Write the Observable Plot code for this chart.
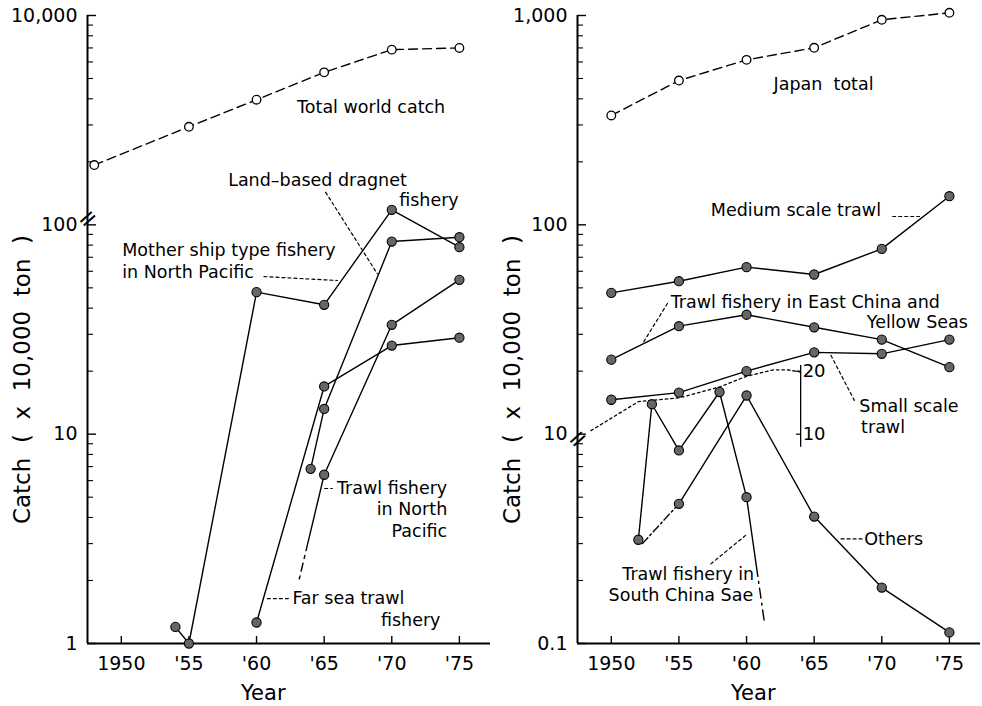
<!DOCTYPE html>
<html>
<head>
<meta charset="utf-8">
<script src="https://cdn.jsdelivr.net/npm/d3@7"></script>
<script src="https://cdn.jsdelivr.net/npm/@observablehq/plot@0.6"></script>
<style>
  html, body { margin: 0; padding: 0; background: #fff; }
  #chart { display: flex; width: 982px; height: 706px; }
  svg text { white-space: pre; }
</style>
</head>
<body>
<div id="chart"></div>
<script>
// ================= DATA =================
const tickYears = [1950, 1955, 1960, 1965, 1970, 1975];
const tickYearLabels = ["1950", "'55", "'60", "'65", "'70", "'75"];

const yTicksLeft = [1, 10, 100, 10000];
const yTickLabelsLeft = ["1", "10", "100", "10,000"];
const yMinorLeft = [2, 3, 4, 5, 6, 7, 8, 9, 20, 30, 40, 50, 60, 70, 80, 90, 2000, 3000, 4000, 5000, 6000, 7000, 8000, 9000];

const yTicksRight = [0.1, 10, 100, 1000];
const yTickLabelsRight = ["0.1", "10", "100", "1,000"];
const yMinorRight = [0.2, 0.3, 0.4, 0.5, 0.6, 0.7, 0.8, 0.9, 20, 30, 40, 50, 60, 70, 80, 90, 200, 300, 400, 500, 600, 700, 800, 900];

const yAxisTitle = "Catch  (  x  10,000  ton  )";
const xAxisTitle = "Year";

// ---- left panel (x 10,000 ton) ----
const worldYears = [1948, 1955, 1960, 1965, 1970, 1975];
const worldTotal = [1930, 2940, 3960, 5350, 6870, 7000];

const motherYears = [1954, 1955, 1960, 1965, 1970, 1975];
const motherShipNP = [1.2, 1.0, 47.7, 41.5, 118, 78.2];

const dragnetYears = [1964, 1965, 1970, 1975];
const landDragnet = [6.83, 13.2, 83.2, 87.3];

const farSeaYears = [1960, 1965, 1970, 1975];
const farSeaTrawl = [1.26, 16.9, 26.5, 28.9];

const npTrawlYears = [1965, 1970, 1975];
const npTrawl = [6.4, 33.3, 54.6];
const npTrawlTailYears = [1965, 1963.1];
const npTrawlTail = [6.4, 1.96];

// ---- right panel (x 10,000 ton) ----
const japanYears = [1950, 1955, 1960, 1965, 1970, 1975];
const japanTotal = [333, 489, 614, 701, 954, 1030];
const mediumTrawl = [47.3, 53.8, 62.8, 57.9, 76.8, 137];
const ecsTrawl = [22.7, 32.8, 37.2, 32.4, 28.3, 20.9];
const smallTrawl = [14.6, 15.8, 20.0, 24.6, 24.2, 28.3];

const scsYears = [1952, 1953, 1955, 1958, 1960];
const scsTrawl = [0.313, 13.9, 0.836, 15.9, 0.50];
const scsTailYears = [1960, 1961.3];
const scsTail = [0.50, 0.129];

const othersYears = [1955, 1960, 1965, 1970, 1975];
const others = [0.465, 15.3, 0.404, 0.185, 0.113];
const othersHeadYears = [1952.3, 1955];
const othersHead = [0.30, 0.465];

const dottedYears = [1948.5, 1952, 1955, 1958, 1960, 1962, 1963, 1964];
const dottedSeries = [10.4, 14.3, 14.9, 16.8, 18.9, 20.3, 20.3, 19.8];

const insetRulerTicks = [20, 10];
const insetRulerLabels = ["20", "10"];

// ================= LAYOUT =================
const FONT = "'DejaVu Sans', sans-serif";
const HEIGHT = 706, M_TOP = 15, M_BOTTOM = 63, M_LEFT = 87;
const FRAME_H = HEIGHT - M_TOP - M_BOTTOM;
const X_DOMAIN = [1947.5, 1977.3];
const NOTE_SIZE = 17.5;

// broken-axis mapping onto one log scale
const fLeft = v => v >= 1000 ? v / 10 : v;   // upper segment 1,000–10,000 shifted down a decade
const fRight = v => v < 1 ? v * 10 : v;      // lower segment 0.1–1 shifted up a decade

const rows = (xs, ys, f) => xs.map((x, i) => ({x, y: f(ys[i])}));

function series(xs, ys, f, {dash = null, open = false, dots = true, sw = 1.4} = {}) {
  const data = rows(xs, ys, f);
  const m = [Plot.line(data, {x: "x", y: "y", stroke: "#000", strokeWidth: sw, strokeDasharray: dash})];
  if (dots) m.push(Plot.dot(data, {x: "x", y: "y", r: open ? 4.3 : 4.6,
    fill: open ? "#fff" : "#666", stroke: "#000", strokeWidth: open ? 1.3 : 1.1}));
  return m;
}

function notes(list, f) {
  return list.map(n => Plot.text([n], {x: "x", y: d => f(d.y), text: "text",
    textAnchor: n.anchor || "start", fontSize: NOTE_SIZE, fill: "#000"}));
}

function leaders(list, f, dash = "3,3") {
  return list.map(seg => Plot.line(seg.map(([x, y]) => ({x, y: f(y)})),
    {x: "x", y: "y", stroke: "#000", strokeWidth: 1.2, strokeDasharray: dash}));
}

function panel({width, marginRight, f, yTicks, yLabels, yMinor, breakAt, marks}) {
  const frameW = width - M_LEFT - marginRight;
  const yLab = new Map(yTicks.map((v, i) => [f(v), yLabels[i]]));
  const xLab = new Map(tickYears.map((v, i) => [v, tickYearLabels[i]]));
  return Plot.plot({
    width, height: HEIGHT, marginTop: M_TOP, marginBottom: M_BOTTOM, marginLeft: M_LEFT, marginRight,
    style: {background: "#fff", color: "#000", fontFamily: FONT, overflow: "visible"},
    x: {domain: X_DOMAIN, axis: null},
    y: {type: "log", domain: [1, 1000], axis: null},
    marks: [
      Plot.ruleX([X_DOMAIN[0]], {stroke: "#000", strokeWidth: 2}),
      Plot.ruleY([1], {stroke: "#000", strokeWidth: 2}),
      Plot.tickY(yTicks.map(f), {y: d => d, stroke: "#000", strokeWidth: 1.4, insetRight: frameW - 9}),
      Plot.tickY(yMinor.map(f), {y: d => d, stroke: "#000", strokeWidth: 1.1, insetRight: frameW - 6}),
      Plot.tickX(tickYears, {x: d => d, stroke: "#000", strokeWidth: 1.4, insetTop: FRAME_H - 7}),
      Plot.axisY(yTicks.map(f), {tickSize: 0, tickPadding: 10, tickFormat: d => yLab.get(d), fontSize: 19, label: null}),
      Plot.axisX(tickYears, {tickSize: 0, tickPadding: 13, tickFormat: d => xLab.get(d), fontSize: 19, label: null}),
      Plot.text([breakAt], {x: () => X_DOMAIN[0], y: d => d, text: () => "=", rotate: -42, fontSize: 24, textAnchor: "middle", fill: "#000"}),
      Plot.text([yAxisTitle], {frameAnchor: "left", rotate: -90, dx: -65, dy: 50, textAnchor: "middle", fontSize: 23, text: d => d, fill: "#000"}),
      Plot.text([xAxisTitle], {x: () => 1960.5, frameAnchor: "bottom", dy: 56, fontSize: 21, text: d => d, fill: "#000"}),
      ...marks
    ]
  });
}

// ---------- left panel ----------
const leftNotes = [
  {x: 1963.0, y: 3620, text: "Total world catch"},
  {x: 1957.9, y: 1628, text: "Land–based dragnet"},
  {x: 1974.95, y: 1307, text: "fishery", anchor: "end"},
  {x: 1950.07, y: 75.4, text: "Mother ship type fishery"},
  {x: 1950.07, y: 59.4, text: "in North Pacific"},
  {x: 1974.1, y: 5.48, text: "Trawl fishery", anchor: "end"},
  {x: 1974.1, y: 4.35, text: "in North", anchor: "end"},
  {x: 1974.1, y: 3.44, text: "Pacific", anchor: "end"},
  {x: 1962.65, y: 1.635, text: "Far sea trawl"},
  {x: 1973.6, y: 1.288, text: "fishery", anchor: "end"}
];
const leftLeaders = [
  [[1965.11, 1430], [1968.93, 58.4]],
  [[1960.55, 56.6], [1965.98, 54.2]],
  [[1965.04, 5.5], [1965.6, 5.5]],
  [[1960.8, 1.64], [1962.55, 1.64]]
];

const left = panel({
  width: 490, marginRight: 0, f: fLeft,
  yTicks: yTicksLeft, yLabels: yTickLabelsLeft, yMinor: yMinorLeft, breakAt: 107,
  marks: [
    ...leaders(leftLeaders, fLeft),
    ...series(npTrawlTailYears, npTrawlTail, fLeft, {dots: false, dash: "78,5,3,5,8,5,3,120"}),
    ...series(worldYears, worldTotal, fLeft, {dash: "9,5", open: true}),
    ...series(motherYears, motherShipNP, fLeft),
    ...series(dragnetYears, landDragnet, fLeft),
    ...series(farSeaYears, farSeaTrawl, fLeft),
    ...series(npTrawlYears, npTrawl, fLeft),
    ...notes(leftNotes, fLeft)
  ]
});

// ---------- right panel ----------
const rulerX = 1964.0, rulerLow = 8.66, rulerHigh = 21.3;
const rightNotes = [
  {x: 1962.0, y: 468, text: "Japan  total"},
  {x: 1957.36, y: 117, text: "Medium scale trawl"},
  {x: 1954.39, y: 42.7, text: "Trawl fishery in East China and"},
  {x: 1976.37, y: 34.3, text: "Yellow Seas", anchor: "end"},
  {x: 1968.34, y: 13.6, text: "Small scale"},
  {x: 1968.47, y: 10.8, text: "trawl"},
  {x: 1968.71, y: 0.316, text: "Others"},
  {x: 1950.81, y: 0.215, text: "Trawl fishery in"},
  {x: 1949.8, y: 0.170, text: "South China Sae"}
];
const rightLeaders = [
  [[1970.81, 109.6], [1972.79, 109.6]],
  [[1954.15, 42.1], [1952.3, 27.0]],
  [[1966.24, 23.8], [1967.97, 14.5]],
  [[1966.99, 0.316], [1968.59, 0.316]],
  [[1957.36, 0.240], [1960.07, 0.334]]
];

const right = panel({
  width: 492, marginRight: 2, f: fRight,
  yTicks: yTicksRight, yLabels: yTickLabelsRight, yMinor: yMinorRight, breakAt: 9.5,
  marks: [
    ...leaders(rightLeaders, fRight),
    Plot.ruleX([rulerX], {x: d => d, y1: () => fRight(rulerLow), y2: () => fRight(rulerHigh), stroke: "#000", strokeWidth: 1.3}),
    Plot.link(insetRulerTicks, {x1: () => rulerX - 0.35, x2: () => rulerX, y1: d => fRight(d), y2: d => fRight(d), stroke: "#000", strokeWidth: 1.2}),
    Plot.text(insetRulerTicks, {x: () => rulerX, y: d => fRight(d), text: (d, i) => insetRulerLabels[i], textAnchor: "start", dx: 2, fontSize: 18, fill: "#000"}),
    ...series(dottedYears, dottedSeries, fRight, {dots: false, dash: "2.5,3", sw: 1.3}),
    ...series(othersHeadYears, othersHead, fRight, {dots: false, dash: "8,3,2,3"}),
    ...series(scsTailYears, scsTail, fRight, {dots: false, dash: "80,5,2,5,10,5,2,5,10,120"}),
    ...series(japanYears, japanTotal, fRight, {dash: "9,5", open: true}),
    ...series(japanYears, mediumTrawl, fRight),
    ...series(japanYears, ecsTrawl, fRight),
    ...series(japanYears, smallTrawl, fRight),
    ...series(scsYears, scsTrawl, fRight),
    ...series(othersYears, others, fRight),
    ...notes(rightNotes, fRight)
  ]
});

document.getElementById("chart").append(left, right);
</script>
</body>
</html>
